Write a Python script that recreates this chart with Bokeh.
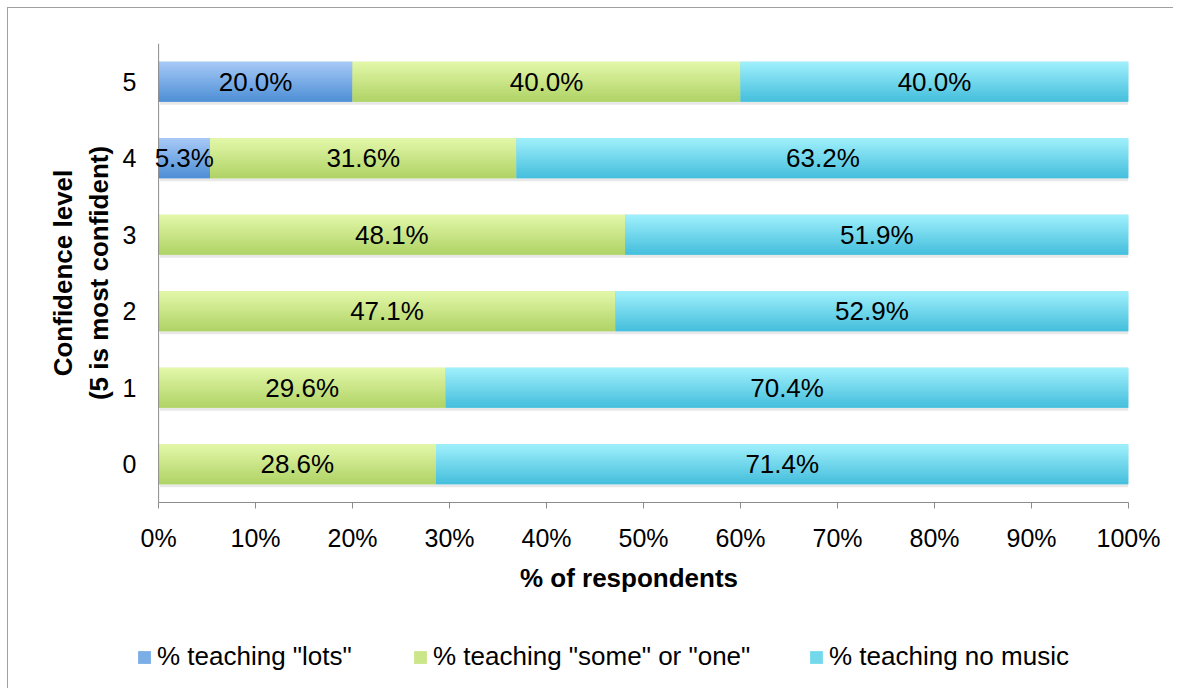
import numpy as np
from bokeh.plotting import figure
from bokeh.layouts import column
from bokeh.models import Legend, LegendItem, FixedTicker, Range1d, LabelSet, ColumnDataSource, Span
from bokeh.core.properties import value
from bokeh.embed import file_html
from bokeh.resources import INLINE

# ---- data ----
levels = [0, 1, 2, 3, 4, 5]
level_labels = ["0", "1", "2", "3", "4", "5"]
lots = [0.0, 0.0, 0.0, 0.0, 5.3, 20.0]
some_one = [28.6, 29.6, 47.1, 48.1, 31.6, 40.0]
no_music = [71.4, 70.4, 52.9, 51.9, 63.2, 40.0]
series_names = ['% teaching "lots"', '% teaching "some" or "one"', '% teaching no music']
x_ticks = [0, 10, 20, 30, 40, 50, 60, 70, 80, 90, 100]

FONT = "Liberation Sans"
AXIS_GRAY = "#8c8c8c"
# gradient (top colour, bottom colour) per series
grads = [((0xa9, 0xcb, 0xf8), (0x4e, 0x8f, 0xd6)),
         ((0xe4, 0xf9, 0xab), (0xb0, 0xd3, 0x66)),
         ((0xa2, 0xf1, 0xfd), (0x45, 0xbf, 0xdc))]

def hexc(c):
    return "#%02x%02x%02x" % tuple(int(v) for v in c)

W = 1165
# a little room left of 0 so that the "5.3%" label is not clipped
p = figure(width=W, height=600, output_backend="svg", toolbar_location=None,
           x_range=Range1d(-3, 100), y_range=Range1d(-0.5, 5.5),
           min_border_left=121, min_border_right=45, min_border_top=35, min_border_bottom=106)
p.frame_align = False
p.outline_line_color = None
p.grid.visible = False
p.background_fill_color = "white"

bar_h = 0.52
N = 16
series = [lots, some_one, no_music]
lefts = []
acc = np.zeros(len(levels))
for s in series:
    lefts.append(acc.copy())
    acc = acc + np.array(s)

# value axis line at 0
p.add_layout(Span(location=0, dimension="height", line_color=AXIS_GRAY, line_width=1))

# shadow
p.hbar(y=np.array(levels) - 0.04, left=0.15, right=acc + 0.35, height=bar_h,
       fill_color="#000000", fill_alpha=0.09, line_color=None)

for k, s in enumerate(series):
    left = lefts[k]
    right = left + np.array(s)
    (r0, g0, b0), (r1, g1, b1) = grads[k]
    p.hbar(y=levels, left=left, right=right, height=bar_h,
           fill_color=hexc(((r0 + r1) / 2, (g0 + g1) / 2, (b0 + b1) / 2)), line_color=None)
    for i in range(N):
        t = (i + 0.5) / N
        col = hexc((r0 + (r1 - r0) * t, g0 + (g1 - g0) * t, b0 + (b1 - b0) * t))
        yc = np.array(levels) + bar_h / 2 - (i + 0.5) * bar_h / N
        hh = bar_h / N * (1.4 if 0 < i < N - 1 else 1.0)
        p.hbar(y=yc, left=left, right=right, height=hh, fill_color=col, line_color=None)

# labels
xs, ys, ts = [], [], []
for k, s in enumerate(series):
    for j, v in enumerate(s):
        if v > 0:
            xs.append(lefts[k][j] + v / 2)
            ys.append(levels[j])
            ts.append("%.1f%%" % v)
lab_src = ColumnDataSource(data=dict(x=xs, y=ys, t=ts))
p.add_layout(LabelSet(x="x", y="y", text="t", source=lab_src,
                      text_align="center", text_baseline="middle",
                      text_font=value(FONT), text_font_size="26px", text_color="black"))

# axes
xa = p.xaxis[0]
xa.ticker = FixedTicker(ticks=x_ticks)
xa.bounds = (0, 100)
xa.major_label_overrides = {t: "%d%%" % t for t in x_ticks}
xa.minor_tick_line_color = None
xa.major_tick_in = 0
xa.major_tick_out = 6
xa.major_tick_line_color = AXIS_GRAY
xa.axis_line_color = AXIS_GRAY
xa.major_label_text_font = FONT
xa.major_label_text_font_size = "25px"
xa.major_label_text_color = "black"
xa.major_label_standoff = 15
xa.axis_label = "% of respondents"
xa.axis_label_text_font = FONT
xa.axis_label_text_font_style = "bold"
xa.axis_label_text_font_size = "26px"
xa.axis_label_text_color = "black"
xa.axis_label_standoff = 8

ya = p.yaxis[0]
ya.ticker = FixedTicker(ticks=levels)
ya.major_label_overrides = {lv: lab for lv, lab in zip(levels, level_labels)}
ya.minor_tick_line_color = None
ya.major_tick_in = 0
ya.major_tick_out = 0
ya.axis_line_color = None
ya.major_label_text_font = FONT
ya.major_label_text_font_size = "25px"
ya.major_label_text_color = "black"
ya.major_label_standoff = -7
ya.axis_label = "Confidence level\n(5 is most confident)"
ya.axis_label_text_font = FONT
ya.axis_label_text_font_style = "bold"
ya.axis_label_text_font_size = "26px"
ya.axis_label_text_color = "black"
ya.axis_label_standoff = 6

# legend strip
pl = figure(width=W, height=80, output_backend="svg", toolbar_location=None,
            x_range=Range1d(0, 1), y_range=Range1d(0, 1),
            x_axis_location=None, y_axis_location=None,
            min_border=0, min_border_left=0, min_border_right=0, min_border_top=0, min_border_bottom=0)
pl.frame_align = False
pl.outline_line_color = None
pl.grid.visible = False
leg_x = [128, 404, 800]
for k in range(3):
    (r0, g0, b0), (r1, g1, b1) = grads[k]
    rr = pl.rect(x=[-10], y=[-10], width=1, height=1,
                 fill_color=hexc(((r0 + r1) / 2, (g0 + g1) / 2, (b0 + b1) / 2)), line_color=None)
    lg = Legend(items=[LegendItem(label=series_names[k], renderers=[rr])],
                location=(leg_x[k], 16), orientation="horizontal",
                glyph_width=16, glyph_height=16, label_standoff=5,
                padding=0, margin=0,
                border_line_color=None, background_fill_alpha=0,
                label_text_font=FONT, label_text_font_size="26px", label_text_color="black")
    pl.add_layout(lg, "center")

layout = column(p, pl, spacing=0,
                styles={"margin-left": "7px", "margin-top": "7px",
                        "border-left": "1px solid #a0a0a0", "border-top": "1px solid #a0a0a0"})

open("out.html", "w").write(file_html(layout, INLINE))
